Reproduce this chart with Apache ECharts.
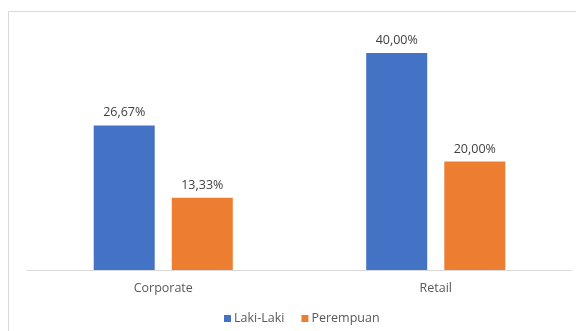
<!DOCTYPE html>
<html><head><meta charset="utf-8">
<script src="https://cdn.jsdelivr.net/npm/echarts@6/dist/echarts.min.js"></script>
<style>html,body{margin:0;padding:0;background:#fff}#c{width:576px;height:331px}</style>
</head><body><div id="c"></div>
<script>
var categories = ['Corporate', 'Retail'];
var seriesNames = ['Laki-Laki', 'Perempuan'];
var lakiLaki = [26.67, 40.00];
var perempuan = [13.33, 20.00];
var colors = ['#4472C4', '#ED7D31'];

function fmt(v){ return v.toFixed(2).replace('.', ',') + '%'; }
var labelCfg = {show:true, position:'top', distance:6, color:'#404040', fontSize:12.5,
  fontFamily:'Open Sans', formatter:function(p){return fmt(p.value);}};

var chart = echarts.init(document.getElementById('c'), null, {renderer:'canvas'});
chart.setOption({
  animation:false,
  backgroundColor:'#fff',
  graphic:[{type:'rect', shape:{x:8.5,y:11.5,width:700,height:500}, style:{fill:'none', stroke:'#d9d9d9', lineWidth:1}, silent:true, z:-1}],
  grid:{left:27, right:4, top:26, bottom:61},
  legend:{bottom:1, left:219, itemWidth:7, itemHeight:7, itemGap:17, icon:'rect',
    textStyle:{color:'#595959', fontSize:12.5, fontFamily:'Open Sans', padding:[0,0,0,-2]},
    data:seriesNames},
  xAxis:{type:'category', data:categories,
    axisLine:{lineStyle:{color:'#d9d9d9', width:1}}, axisTick:{show:false},
    axisLabel:{color:'#595959', fontSize:12.5, fontFamily:'Open Sans', margin:12}},
  yAxis:{type:'value', min:0, max:45, show:false, splitLine:{show:false}},
  series:[
    {name:seriesNames[0], type:'bar', data:lakiLaki, barWidth:61, barGap:'28%',
      itemStyle:{color:colors[0]}, label:labelCfg},
    {name:seriesNames[1], type:'bar', data:perempuan, barWidth:61,
      itemStyle:{color:colors[1]}, label:labelCfg}
  ]
});
</script></body></html>
